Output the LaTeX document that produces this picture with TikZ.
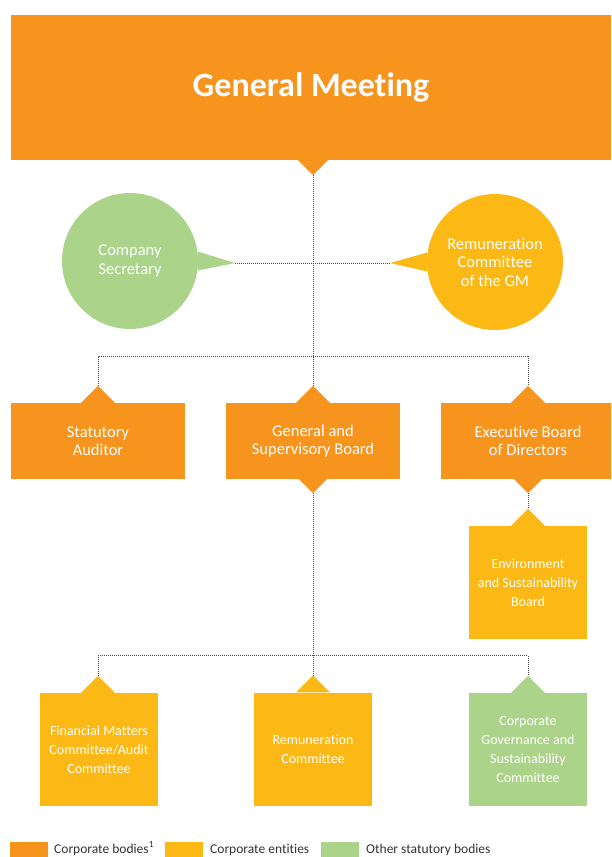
\documentclass[tikz,border=0pt]{standalone}
\usepackage{fontspec}
\setmainfont{Carlito}[Ligatures=NoCommon]
\usepackage{tikz}
\usetikzlibrary{calc}
\definecolor{bodyorange}{HTML}{F7941E}
\definecolor{entityyellow}{HTML}{FCB814}
\definecolor{othergreen}{HTML}{ABD48A}
\definecolor{linkgray}{HTML}{4A4A4A}
\definecolor{legendtext}{HTML}{333333}
\newcommand{\tipup}[2]{\fill[#1] ($(#2)+(-17,17)$) -- (#2) -- ($(#2)+(17,17)$) -- cycle;}
\newcommand{\tipdn}[2]{\fill[#1] ($(#2)+(-15,-15)$) -- (#2) -- ($(#2)+(15,-15)$) -- cycle;}

\begin{document}
\begin{tikzpicture}[x=1pt,y=-1pt,
  box/.style={rectangle,inner sep=0pt,align=center,text=white},
  wide/.style={box,minimum width=174,minimum height=76,font=\fontsize{16.5}{18.5}\selectfont},
  tall/.style={box,minimum width=118,minimum height=113,font=\fontsize{14}{19}\selectfont},
  bubble/.style={circle,inner sep=0pt,minimum size=136,align=center,text=white,font=\fontsize{16.5}{18.5}\selectfont},
  link/.style={linkgray,densely dotted,line width=1pt},
  swatch/.style={rectangle,inner sep=0pt,minimum width=38,minimum height=24,anchor=north west},
  legend/.style={anchor=base west,inner sep=0pt,text=legendtext,font=\fontsize{13.5}{16}\selectfont}]
  \clip (0,0) rectangle (611,857);
  % general meeting
  \node[box,fill=bodyorange,minimum width=600,minimum height=145,font=\fontsize{34}{38}\selectfont\bfseries] (gm) at (311,87.5) {General Meeting};
  \coordinate (gmtip) at ($(gm.south)+(2,15)$);
  \tipdn{bodyorange}{gmtip}
  % speech bubbles
  \node[bubble,fill=othergreen] (cs) at (130,261) {Company\\Secretary};
  \coordinate (cstip) at ($(cs.center)+(105,2)$);
  \fill[othergreen] (cs.8) -- (cstip) -- (cs.-8) -- cycle;
  \node[bubble,fill=entityyellow] (rc) at (495,262) {Remuneration\\Committee\\of the GM};
  \coordinate (rctip) at ($(rc.center)+(-105,1)$);
  \fill[entityyellow] (rc.172) -- (rctip) -- (rc.188) -- cycle;
  % corporate bodies
  \node[wide,fill=bodyorange] (sa) at (98,441) {Statutory\\Auditor};
  \node[wide,fill=bodyorange] (gsb) at (313,441) {General and\\Supervisory Board};
  \node[wide,fill=bodyorange] (ebd) at (528,441) {Executive Board\\of Directors};
  \coordinate (satop) at ($(sa.north)+(0,-17)$);
  \coordinate (gsbtop) at ($(gsb.north)+(0,-17)$);
  \coordinate (ebdtop) at ($(ebd.north)+(0,-17)$);
  \coordinate (gsbbot) at ($(gsb.south)+(0,14)$);
  \coordinate (ebdbot) at ($(ebd.south)+(0,14)$);
  \tipup{bodyorange}{satop}\tipup{bodyorange}{gsbtop}\tipup{bodyorange}{ebdtop}
  \tipdn{bodyorange}{gsbbot}\tipdn{bodyorange}{ebdbot}
  % board committee
  \node[tall,fill=entityyellow] (esb) at (528,582.5) {Environment\\and Sustainability\\Board};
  \coordinate (esbtop) at ($(esb.north)+(0,-17)$);
  \tipup{entityyellow}{esbtop}
  % supervisory committees
  \node[tall,fill=entityyellow] (fmc) at (99,749.5) {Financial Matters\\Committee/Audit\\Committee};
  \node[tall,fill=entityyellow] (rem) at (313,749) {Remuneration\\Committee};
  \node[tall,fill=othergreen] (cgs) at (528,749.5) {Corporate\\Governance and\\Sustainability\\Committee};
  \coordinate (fmctop) at ($(fmc.north)+(-1,-17)$);
  \coordinate (remtop) at ($(rem.north)+(0,-17)$);
  \coordinate (cgstop) at ($(cgs.north)+(0,-17)$);
  \tipup{entityyellow}{fmctop}\tipup{entityyellow}{remtop}\tipup{othergreen}{cgstop}
  % dotted connectors
  \draw[link] (gmtip) -- (gsbtop);
  \draw[link] (cstip) -- (rctip);
  \draw[link] (satop) -- ++(0,-29) -| (ebdtop);
  \draw[link] (ebdbot) -- (esbtop);
  \draw[link] (gsbbot) -- (remtop);
  \draw[link] (fmctop) -- ++(0,-20) -| (cgstop);
  % legend
  \node[swatch,fill=bodyorange] (lgbody) at (10,842) {};
  \node[legend] (lgbodytxt) at (54,853) {Corporate bodies\textsuperscript{1}};
  \node[swatch,fill=entityyellow] (lgentity) at (165,842) {};
  \node[legend] (lgentitytxt) at (210,853) {Corporate entities};
  \node[swatch,fill=othergreen] (lgother) at (321,842) {};
  \node[legend] (lgothertxt) at (366,853) {Other statutory bodies};
\end{tikzpicture}
\end{document}
